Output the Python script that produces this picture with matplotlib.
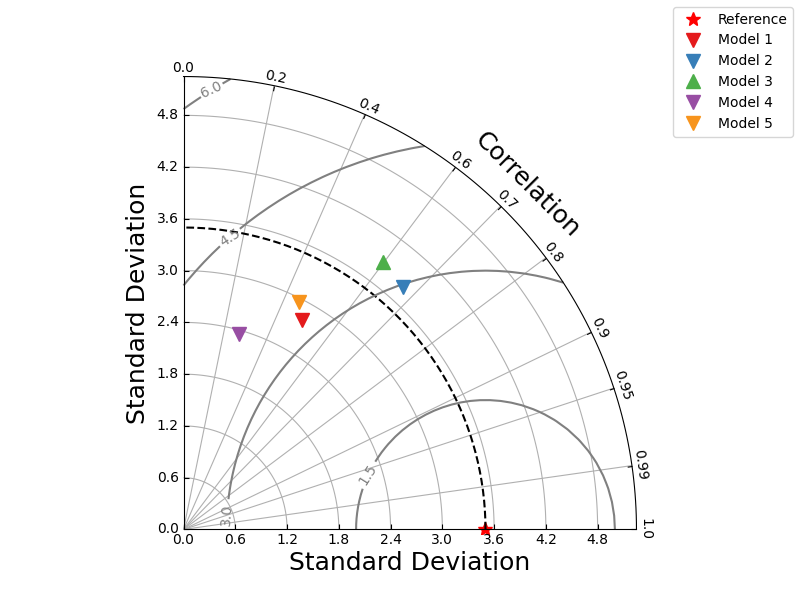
import numpy as np
import matplotlib
matplotlib.use("Agg")
import matplotlib.pyplot as plt
from matplotlib.projections import PolarAxes
import mpl_toolkits.axisartist.floating_axes as FA
import mpl_toolkits.axisartist.grid_finder as GF

# reference and model statistics (std dev, correlation)
ref_std = 3.5
model_names = ["Model 1", "Model 2", "Model 3", "Model 4", "Model 5"]
model_std = [2.79, 3.79, 3.87, 2.35, 2.96]
model_corr = [0.491, 0.671, 0.598, 0.273, 0.451]
model_markers = ["v", "v", "^", "v", "v"]
model_colors = ["#e41a1c", "#377eb8", "#4daf4a", "#984ea3", "#f7941d"]
corr_ticks = [0, 0.2, 0.4, 0.6, 0.7, 0.8, 0.9, 0.95, 0.99, 1]
std_ticks = [0.0, 0.6, 1.2, 1.8, 2.4, 3.0, 3.6, 4.2, 4.8]

fig = plt.figure(figsize=(8, 6), dpi=100)

tr = PolarAxes.PolarTransform()
rlocs = np.array(corr_ticks)
tlocs = np.arccos(rlocs)
gl1 = GF.FixedLocator(tlocs)
tf1 = GF.DictFormatter(dict(zip(tlocs, map(str, rlocs))))
gl2 = GF.FixedLocator(std_ticks)
tf2 = GF.DictFormatter({s: "%.1f" % s for s in std_ticks})

smin, smax = 0, 1.5 * ref_std
tmax = np.pi / 2
ghelper = FA.GridHelperCurveLinear(tr, extremes=(0, tmax, smin, smax),
                                   grid_locator1=gl1, tick_formatter1=tf1,
                                   grid_locator2=gl2, tick_formatter2=tf2)
ax = FA.FloatingSubplot(fig, 111, grid_helper=ghelper)
fig.add_subplot(ax)

ax.axis["top"].set_axis_direction("bottom")
ax.axis["top"].toggle(ticklabels=True, label=True)
ax.axis["top"].major_ticklabels.set_axis_direction("top")
ax.axis["top"].label.set_axis_direction("top")
ax.axis["top"].label.set_text("Correlation")
ax.axis["top"].label.set_fontsize(18)

ax.axis["left"].set_axis_direction("bottom")
ax.axis["left"].label.set_text("Standard Deviation")
ax.axis["left"].label.set_fontsize(18)

ax.axis["right"].set_axis_direction("top")
ax.axis["right"].toggle(ticklabels=True, label=True)
ax.axis["right"].major_ticklabels.set_axis_direction("left")
ax.axis["right"].label.set_axis_direction("left")
ax.axis["right"].label.set_text("Standard Deviation")
ax.axis["right"].label.set_fontsize(18)

ax.axis["bottom"].set_visible(False)
ax.grid(True)

pax = ax.get_aux_axes(tr)

pax.plot([0], [ref_std], marker="*", color="red", ls="", ms=10, label="Reference")
t = np.linspace(0, tmax)
pax.plot(t, np.zeros_like(t) + ref_std, "k--", label="_")

for name, s, c, m, col in zip(model_names, model_std, model_corr, model_markers, model_colors):
    pax.plot(np.arccos(c), s, marker=m, ms=10, ls="", color=col, label=name, zorder=5)

# centered RMS difference contours
rs, ts = np.meshgrid(np.linspace(smin, smax), np.linspace(0, tmax))
rms = np.sqrt(ref_std**2 + rs**2 - 2 * ref_std * rs * np.cos(ts))
cs = pax.contour(ts, rs, rms, 5, colors="0.5", linewidths=1.5)
ax.clabel(cs, inline=1, fontsize=10, fmt="%.1f")

fig.legend(numpoints=1, loc="upper right")
fig.savefig("out.png", dpi=100)
